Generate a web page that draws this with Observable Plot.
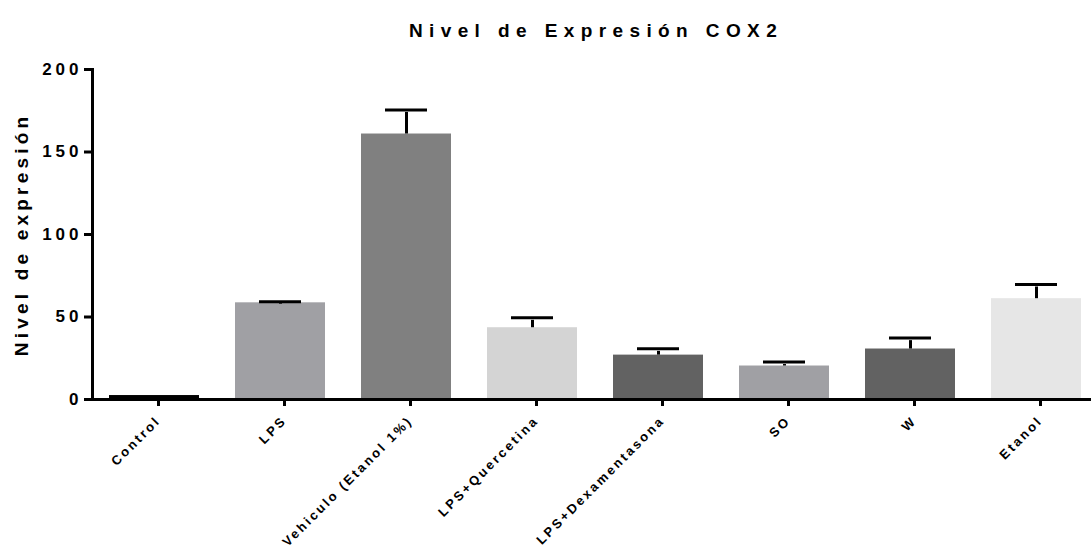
<!DOCTYPE html>
<html><head><meta charset="utf-8">
<script src="https://cdn.jsdelivr.net/npm/d3@7"></script>
<script src="https://cdn.jsdelivr.net/npm/@observablehq/plot@0.6"></script>
<style>
html,body{margin:0;padding:0;background:#fff;}
#chart svg{display:block;}
</style></head><body><div id="chart"></div>
<script>
const categories = ["Control","LPS","Vehiculo (Etanol 1%)","LPS+Quercetina","LPS+Dexamentasona","SO","W","Etanol"];
const means = [2.4, 58.6, 160.9, 43.5, 26.9, 20.3, 30.6, 61.1];
const sems = [0, 0.7, 14.6, 6.0, 3.8, 2.4, 6.6, 8.6];
const yTicks = [0, 50, 100, 150, 200];
const titleText = "Nivel de Expresión COX2";
const yLabelText = "Nivel de expresión";
const fills = ["#000000","#a0a0a4","#808080","#d4d4d4","#626262","#a0a0a4","#626262","#e6e6e6"];

const data = categories.map((name, i) => ({name, mean: means[i], sem: sems[i], fill: fills[i]}));
const withErr = data.filter(d => d.sem > 0);
const font = "'Liberation Sans', Arial, Helvetica, sans-serif";

const plot = Plot.plot({
  width: 1091, height: 550,
  marginLeft: 92, marginRight: 0, marginTop: 69, marginBottom: 151,
  style: {fontFamily: font, background: "#fff", color: "#000"},
  x: {domain: categories, range: [91.3, 1099.7], paddingInner: 0.283, paddingOuter: 0.1415},
  y: {domain: [0, 200]},
  color: {type: "identity"},
  marks: [
    Plot.barY(data, {x: "name", y: "mean", fill: "fill"}),
    Plot.ruleX(withErr, {x: "name", y1: "mean", y2: d => d.mean + d.sem, stroke: "#000", strokeWidth: 3, insetBottom: -2.5}),
    Plot.tickY(withErr, {x: "name", y: d => d.mean + d.sem, stroke: "#000", strokeWidth: 3, insetLeft: 24, insetRight: 24}),
    Plot.frame({anchor: "left", strokeWidth: 3}),
    Plot.frame({anchor: "bottom", strokeWidth: 3}),
    Plot.axisY({ticks: yTicks, tickSize: 8, tickPadding: 2, fontSize: 17, fontWeight: "bold", strokeWidth: 3, label: null}),
    Plot.axisX({tickSize: 7, tickRotate: -45, fontSize: 13, fontWeight: "bold", strokeWidth: 3, label: null, tickPadding: 12, dx: 4}),
    Plot.text([titleText], {frameAnchor: "top", dy: -39, dx: 4, fontSize: 19, fontWeight: "bold", lineAnchor: "middle", ariaDescription: "title"}),
    Plot.text([yLabelText], {frameAnchor: "left", dx: -71, rotate: -90, fontSize: 19, fontWeight: "bold", textAnchor: "middle", lineAnchor: "middle", ariaDescription: "ylabel"})
  ]
});
document.getElementById("chart").appendChild(plot);
const svg = d3.select(plot);
svg.selectAll('g[aria-label="y-axis tick label"] text').style("letter-spacing", "4px");
svg.selectAll('g[aria-label="x-axis tick label"] text').style("letter-spacing", "2.5px");
svg.selectAll('g[aria-description="title"] text').style("letter-spacing", "6.4px");
svg.selectAll('g[aria-description="ylabel"] text').style("letter-spacing", "4.2px");
</script></body></html>
